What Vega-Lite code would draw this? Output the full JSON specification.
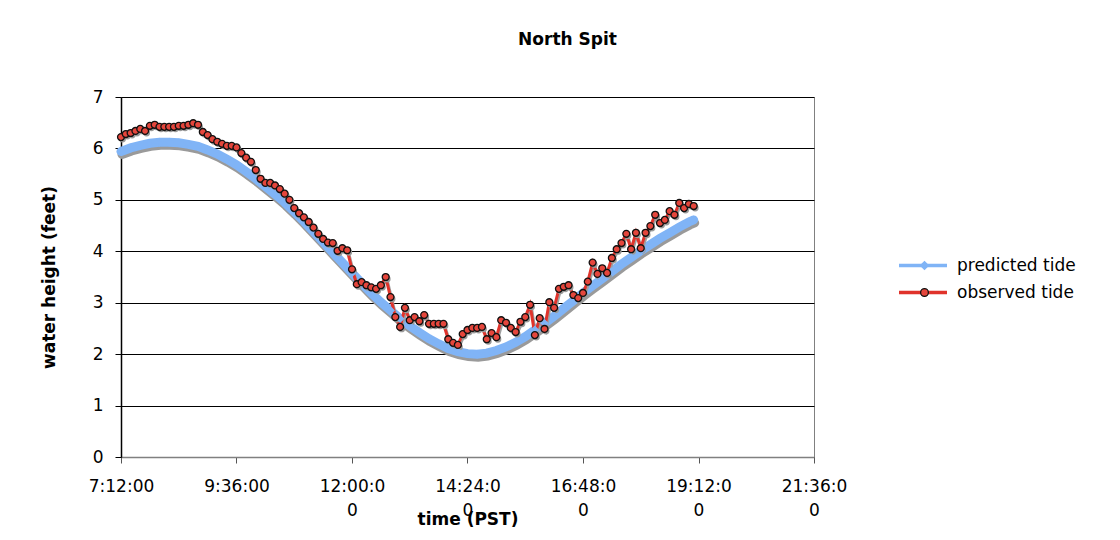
{
  "$schema": "https://vega.github.io/schema/vega-lite/v6.json",
  "width": 693,
  "height": 360,
  "autosize": {"type": "none"},
  "padding": {"left": 121, "top": 97, "right": 306, "bottom": 83},
  "background": "white",
  "title": {"text": "North Spit", "font": "DejaVu Sans", "fontSize": 17, "fontWeight": "bold", "color": "black", "anchor": "middle", "dx": 100, "offset": 39},
  "config": {"view": {"stroke": "#808080", "strokeWidth": 1}, "font": "DejaVu Sans"},
  "datasets": {
    "tide": [
      {"series": "predicted tide", "time": 7.2, "height": 5.94},
      {"series": "predicted tide", "time": 7.4, "height": 6.01},
      {"series": "predicted tide", "time": 7.6, "height": 6.06},
      {"series": "predicted tide", "time": 7.8, "height": 6.10},
      {"series": "predicted tide", "time": 8.0, "height": 6.12},
      {"series": "predicted tide", "time": 8.2, "height": 6.12},
      {"series": "predicted tide", "time": 8.4, "height": 6.11},
      {"series": "predicted tide", "time": 8.6, "height": 6.08},
      {"series": "predicted tide", "time": 8.8, "height": 6.04},
      {"series": "predicted tide", "time": 9.0, "height": 5.97},
      {"series": "predicted tide", "time": 9.2, "height": 5.89},
      {"series": "predicted tide", "time": 9.4, "height": 5.79},
      {"series": "predicted tide", "time": 9.6, "height": 5.68},
      {"series": "predicted tide", "time": 9.8, "height": 5.55},
      {"series": "predicted tide", "time": 10.0, "height": 5.41},
      {"series": "predicted tide", "time": 10.2, "height": 5.26},
      {"series": "predicted tide", "time": 10.4, "height": 5.11},
      {"series": "predicted tide", "time": 10.6, "height": 4.95},
      {"series": "predicted tide", "time": 10.8, "height": 4.77},
      {"series": "predicted tide", "time": 11.0, "height": 4.58},
      {"series": "predicted tide", "time": 11.2, "height": 4.38},
      {"series": "predicted tide", "time": 11.4, "height": 4.18},
      {"series": "predicted tide", "time": 11.6, "height": 3.98},
      {"series": "predicted tide", "time": 11.8, "height": 3.78},
      {"series": "predicted tide", "time": 12.0, "height": 3.58},
      {"series": "predicted tide", "time": 12.2, "height": 3.38},
      {"series": "predicted tide", "time": 12.4, "height": 3.19},
      {"series": "predicted tide", "time": 12.6, "height": 3.01},
      {"series": "predicted tide", "time": 12.8, "height": 2.85},
      {"series": "predicted tide", "time": 13.0, "height": 2.69},
      {"series": "predicted tide", "time": 13.2, "height": 2.55},
      {"series": "predicted tide", "time": 13.4, "height": 2.42},
      {"series": "predicted tide", "time": 13.6, "height": 2.30},
      {"series": "predicted tide", "time": 13.8, "height": 2.20},
      {"series": "predicted tide", "time": 14.0, "height": 2.11},
      {"series": "predicted tide", "time": 14.2, "height": 2.05},
      {"series": "predicted tide", "time": 14.4, "height": 2.01},
      {"series": "predicted tide", "time": 14.6, "height": 2.00},
      {"series": "predicted tide", "time": 14.8, "height": 2.02},
      {"series": "predicted tide", "time": 15.0, "height": 2.07},
      {"series": "predicted tide", "time": 15.2, "height": 2.14},
      {"series": "predicted tide", "time": 15.4, "height": 2.23},
      {"series": "predicted tide", "time": 15.6, "height": 2.34},
      {"series": "predicted tide", "time": 15.8, "height": 2.47},
      {"series": "predicted tide", "time": 16.0, "height": 2.60},
      {"series": "predicted tide", "time": 16.2, "height": 2.74},
      {"series": "predicted tide", "time": 16.4, "height": 2.89},
      {"series": "predicted tide", "time": 16.6, "height": 3.04},
      {"series": "predicted tide", "time": 16.8, "height": 3.19},
      {"series": "predicted tide", "time": 17.0, "height": 3.33},
      {"series": "predicted tide", "time": 17.2, "height": 3.47},
      {"series": "predicted tide", "time": 17.4, "height": 3.61},
      {"series": "predicted tide", "time": 17.6, "height": 3.75},
      {"series": "predicted tide", "time": 17.8, "height": 3.88},
      {"series": "predicted tide", "time": 18.0, "height": 4.01},
      {"series": "predicted tide", "time": 18.2, "height": 4.13},
      {"series": "predicted tide", "time": 18.4, "height": 4.25},
      {"series": "predicted tide", "time": 18.6, "height": 4.36},
      {"series": "predicted tide", "time": 18.8, "height": 4.47},
      {"series": "predicted tide", "time": 19.0, "height": 4.57},
      {"series": "predicted tide", "time": 19.1, "height": 4.61},
      {"series": "observed tide", "time": 7.2, "height": 6.22},
      {"series": "observed tide", "time": 7.3, "height": 6.28},
      {"series": "observed tide", "time": 7.4, "height": 6.30},
      {"series": "observed tide", "time": 7.5, "height": 6.34},
      {"series": "observed tide", "time": 7.6, "height": 6.38},
      {"series": "observed tide", "time": 7.7, "height": 6.34},
      {"series": "observed tide", "time": 7.8, "height": 6.44},
      {"series": "observed tide", "time": 7.9, "height": 6.46},
      {"series": "observed tide", "time": 8.0, "height": 6.42},
      {"series": "observed tide", "time": 8.1, "height": 6.42},
      {"series": "observed tide", "time": 8.2, "height": 6.42},
      {"series": "observed tide", "time": 8.3, "height": 6.42},
      {"series": "observed tide", "time": 8.4, "height": 6.44},
      {"series": "observed tide", "time": 8.5, "height": 6.44},
      {"series": "observed tide", "time": 8.6, "height": 6.46},
      {"series": "observed tide", "time": 8.7, "height": 6.49},
      {"series": "observed tide", "time": 8.8, "height": 6.46},
      {"series": "observed tide", "time": 8.9, "height": 6.32},
      {"series": "observed tide", "time": 9.0, "height": 6.26},
      {"series": "observed tide", "time": 9.1, "height": 6.18},
      {"series": "observed tide", "time": 9.2, "height": 6.13},
      {"series": "observed tide", "time": 9.3, "height": 6.09},
      {"series": "observed tide", "time": 9.4, "height": 6.05},
      {"series": "observed tide", "time": 9.5, "height": 6.05},
      {"series": "observed tide", "time": 9.6, "height": 6.02},
      {"series": "observed tide", "time": 9.7, "height": 5.91},
      {"series": "observed tide", "time": 9.8, "height": 5.82},
      {"series": "observed tide", "time": 9.9, "height": 5.74},
      {"series": "observed tide", "time": 10.0, "height": 5.58},
      {"series": "observed tide", "time": 10.1, "height": 5.41},
      {"series": "observed tide", "time": 10.2, "height": 5.33},
      {"series": "observed tide", "time": 10.3, "height": 5.33},
      {"series": "observed tide", "time": 10.4, "height": 5.28},
      {"series": "observed tide", "time": 10.5, "height": 5.21},
      {"series": "observed tide", "time": 10.6, "height": 5.12},
      {"series": "observed tide", "time": 10.7, "height": 5.00},
      {"series": "observed tide", "time": 10.8, "height": 4.84},
      {"series": "observed tide", "time": 10.9, "height": 4.74},
      {"series": "observed tide", "time": 11.0, "height": 4.66},
      {"series": "observed tide", "time": 11.1, "height": 4.57},
      {"series": "observed tide", "time": 11.2, "height": 4.46},
      {"series": "observed tide", "time": 11.3, "height": 4.34},
      {"series": "observed tide", "time": 11.4, "height": 4.24},
      {"series": "observed tide", "time": 11.5, "height": 4.17},
      {"series": "observed tide", "time": 11.6, "height": 4.16},
      {"series": "observed tide", "time": 11.7, "height": 4.01},
      {"series": "observed tide", "time": 11.8, "height": 4.06},
      {"series": "observed tide", "time": 11.9, "height": 4.02},
      {"series": "observed tide", "time": 12.0, "height": 3.65},
      {"series": "observed tide", "time": 12.1, "height": 3.36},
      {"series": "observed tide", "time": 12.2, "height": 3.40},
      {"series": "observed tide", "time": 12.3, "height": 3.34},
      {"series": "observed tide", "time": 12.4, "height": 3.30},
      {"series": "observed tide", "time": 12.5, "height": 3.27},
      {"series": "observed tide", "time": 12.6, "height": 3.34},
      {"series": "observed tide", "time": 12.7, "height": 3.50},
      {"series": "observed tide", "time": 12.8, "height": 3.11},
      {"series": "observed tide", "time": 12.9, "height": 2.72},
      {"series": "observed tide", "time": 13.0, "height": 2.53},
      {"series": "observed tide", "time": 13.1, "height": 2.90},
      {"series": "observed tide", "time": 13.2, "height": 2.66},
      {"series": "observed tide", "time": 13.3, "height": 2.72},
      {"series": "observed tide", "time": 13.4, "height": 2.64},
      {"series": "observed tide", "time": 13.5, "height": 2.76},
      {"series": "observed tide", "time": 13.6, "height": 2.59},
      {"series": "observed tide", "time": 13.7, "height": 2.59},
      {"series": "observed tide", "time": 13.8, "height": 2.59},
      {"series": "observed tide", "time": 13.9, "height": 2.59},
      {"series": "observed tide", "time": 14.0, "height": 2.29},
      {"series": "observed tide", "time": 14.1, "height": 2.22},
      {"series": "observed tide", "time": 14.2, "height": 2.18},
      {"series": "observed tide", "time": 14.3, "height": 2.39},
      {"series": "observed tide", "time": 14.4, "height": 2.47},
      {"series": "observed tide", "time": 14.5, "height": 2.51},
      {"series": "observed tide", "time": 14.6, "height": 2.51},
      {"series": "observed tide", "time": 14.7, "height": 2.53},
      {"series": "observed tide", "time": 14.8, "height": 2.29},
      {"series": "observed tide", "time": 14.9, "height": 2.41},
      {"series": "observed tide", "time": 15.0, "height": 2.33},
      {"series": "observed tide", "time": 15.1, "height": 2.66},
      {"series": "observed tide", "time": 15.2, "height": 2.61},
      {"series": "observed tide", "time": 15.3, "height": 2.51},
      {"series": "observed tide", "time": 15.4, "height": 2.43},
      {"series": "observed tide", "time": 15.5, "height": 2.63},
      {"series": "observed tide", "time": 15.6, "height": 2.72},
      {"series": "observed tide", "time": 15.7, "height": 2.96},
      {"series": "observed tide", "time": 15.8, "height": 2.37},
      {"series": "observed tide", "time": 15.9, "height": 2.70},
      {"series": "observed tide", "time": 16.0, "height": 2.49},
      {"series": "observed tide", "time": 16.1, "height": 3.01},
      {"series": "observed tide", "time": 16.2, "height": 2.90},
      {"series": "observed tide", "time": 16.3, "height": 3.27},
      {"series": "observed tide", "time": 16.4, "height": 3.31},
      {"series": "observed tide", "time": 16.5, "height": 3.34},
      {"series": "observed tide", "time": 16.6, "height": 3.15},
      {"series": "observed tide", "time": 16.7, "height": 3.09},
      {"series": "observed tide", "time": 16.8, "height": 3.19},
      {"series": "observed tide", "time": 16.9, "height": 3.41},
      {"series": "observed tide", "time": 17.0, "height": 3.78},
      {"series": "observed tide", "time": 17.1, "height": 3.56},
      {"series": "observed tide", "time": 17.2, "height": 3.67},
      {"series": "observed tide", "time": 17.3, "height": 3.58},
      {"series": "observed tide", "time": 17.4, "height": 3.87},
      {"series": "observed tide", "time": 17.5, "height": 4.04},
      {"series": "observed tide", "time": 17.6, "height": 4.16},
      {"series": "observed tide", "time": 17.7, "height": 4.34},
      {"series": "observed tide", "time": 17.8, "height": 4.04},
      {"series": "observed tide", "time": 17.9, "height": 4.36},
      {"series": "observed tide", "time": 18.0, "height": 4.06},
      {"series": "observed tide", "time": 18.1, "height": 4.36},
      {"series": "observed tide", "time": 18.2, "height": 4.49},
      {"series": "observed tide", "time": 18.3, "height": 4.71},
      {"series": "observed tide", "time": 18.4, "height": 4.55},
      {"series": "observed tide", "time": 18.5, "height": 4.61},
      {"series": "observed tide", "time": 18.6, "height": 4.78},
      {"series": "observed tide", "time": 18.7, "height": 4.71},
      {"series": "observed tide", "time": 18.8, "height": 4.94},
      {"series": "observed tide", "time": 18.9, "height": 4.84},
      {"series": "observed tide", "time": 19.0, "height": 4.92},
      {"series": "observed tide", "time": 19.1, "height": 4.88}
    ]
  },
  "data": {"name": "tide"},
  "encoding": {
    "x": {
      "field": "time", "type": "quantitative",
      "scale": {"domain": [7.2, 21.6], "nice": false, "zero": false},
      "axis": {
        "values": [7.2, 9.6, 12, 14.4, 16.8, 19.2, 21.6],
        "labelExpr": "floor(datum.value + 0.001) >= 10 ? [floor(datum.value + 0.001) + ':' + (round((datum.value - floor(datum.value + 0.001)) * 60) < 10 ? '0' : '') + round((datum.value - floor(datum.value + 0.001)) * 60) + ':0', '0'] : floor(datum.value + 0.001) + ':' + (round((datum.value - floor(datum.value + 0.001)) * 60) < 10 ? '0' : '') + round((datum.value - floor(datum.value + 0.001)) * 60) + ':00'",
        "labelFlush": false, "labelOverlap": false, "grid": false,
        "tickSize": 6, "tickColor": "#555555", "domainColor": "#808080", "domainWidth": 1.5,
        "labelFont": "DejaVu Sans", "labelFontSize": 17, "labelColor": "black", "labelPadding": 15, "labelLineHeight": 24,
        "title": "time (PST)", "titleFont": "DejaVu Sans", "titleFontSize": 17, "titleFontWeight": "bold", "titleColor": "black",
        "titleY": 54, "titleBaseline": "top"
      }
    },
    "y": {
      "field": "height", "type": "quantitative",
      "scale": {"domain": [0, 7], "nice": false},
      "axis": {
        "values": [0, 1, 2, 3, 4, 5, 6, 7],
        "grid": true, "gridColor": "#000000", "gridWidth": 1, "gridOpacity": 1,
        "tickSize": 6, "tickColor": "#000000", "domainColor": "#000000", "domainWidth": 1.5,
        "labelFont": "DejaVu Sans", "labelFontSize": 17, "labelColor": "black", "labelPadding": 12,
        "title": "water height (feet)", "titleFont": "DejaVu Sans", "titleFontSize": 17, "titleFontWeight": "bold", "titleColor": "black",
        "titlePadding": 34
      }
    }
  },
  "layer": [
    {
      "transform": [{"filter": "datum.series === 'predicted tide'"}],
      "mark": {"type": "line", "color": "#9a9a9a", "strokeWidth": 9, "xOffset": 1, "yOffset": 3, "strokeCap": "round"},
      "encoding": {}
    },
    {
      "transform": [{"filter": "datum.series === 'predicted tide'"}],
      "mark": {"type": "line", "strokeWidth": 9, "strokeCap": "round"},
      "encoding": {
        "color": {
          "field": "series", "type": "nominal",
          "scale": {"domain": ["observed tide", "predicted tide"], "range": ["#E0332B", "#80B4F6"]},
          "legend": {"orient": "none", "legendX": 776, "legendY": 155, "title": null, "values": ["predicted tide", "observed tide"], "symbolType": "stroke", "symbolSize": 2304, "symbolStrokeWidth": 3.5, "clipHeight": 27, "rowPadding": 0, "labelOffset": 8, "labelFont": "DejaVu Sans", "labelFontSize": 17, "labelColor": "black", "labelLimit": 400}
        }
      }
    },
    {
      "transform": [{"filter": "datum.series === 'observed tide'"}],
      "mark": {"type": "line", "color": "#a0a0a0", "strokeWidth": 2.5, "xOffset": 1.5, "yOffset": 2},
      "encoding": {}
    },
    {
      "transform": [{"filter": "datum.series === 'observed tide'"}],
      "mark": {"type": "line", "strokeWidth": 3},
      "encoding": {
        "color": {
          "field": "series", "type": "nominal",
          "scale": {"domain": ["observed tide", "predicted tide"], "range": ["#E0332B", "#80B4F6"]},
          "legend": {"orient": "none", "legendX": 776, "legendY": 155, "title": null, "values": ["predicted tide", "observed tide"], "symbolType": "stroke", "symbolSize": 2304, "symbolStrokeWidth": 3.5, "clipHeight": 27, "rowPadding": 0, "labelOffset": 8, "labelFont": "DejaVu Sans", "labelFontSize": 17, "labelColor": "black", "labelLimit": 400}
        }
      }
    },
    {
      "transform": [{"filter": "datum.series === 'observed tide'"}],
      "mark": {"type": "point", "filled": true, "color": "#9a9a9a", "size": 48, "opacity": 1, "xOffset": 1.5, "yOffset": 2},
      "encoding": {}
    },
    {
      "mark": {"type": "point", "filled": true, "size": 48, "opacity": 1, "strokeWidth": 1.3},
      "encoding": {
        "shape": {
          "field": "series", "type": "nominal",
          "scale": {"domain": ["predicted tide", "observed tide"], "range": ["diamond", "circle"]},
          "legend": {"orient": "none", "legendX": 795, "legendY": 155, "title": null, "symbolSize": 60, "symbolStrokeWidth": 1.3, "clipHeight": 27, "rowPadding": 0, "labelOffset": 8, "labelFontSize": 17, "labelOpacity": 0}
        },
        "fill": {
          "field": "series", "type": "nominal",
          "scale": {"domain": ["predicted tide", "observed tide"], "range": ["#80B4F6", "#E5463C"]},
          "legend": {"orient": "none", "legendX": 795, "legendY": 155, "title": null, "symbolSize": 60, "symbolStrokeWidth": 1.3, "clipHeight": 27, "rowPadding": 0, "labelOffset": 8, "labelFontSize": 17, "labelOpacity": 0}
        },
        "stroke": {
          "field": "series", "type": "nominal",
          "scale": {"domain": ["predicted tide", "observed tide"], "range": ["#80B4F6", "#111111"]},
          "legend": {"orient": "none", "legendX": 795, "legendY": 155, "title": null, "symbolSize": 60, "symbolStrokeWidth": 1.3, "clipHeight": 27, "rowPadding": 0, "labelOffset": 8, "labelFontSize": 17, "labelOpacity": 0}
        }
      }
    }
  ]
}
